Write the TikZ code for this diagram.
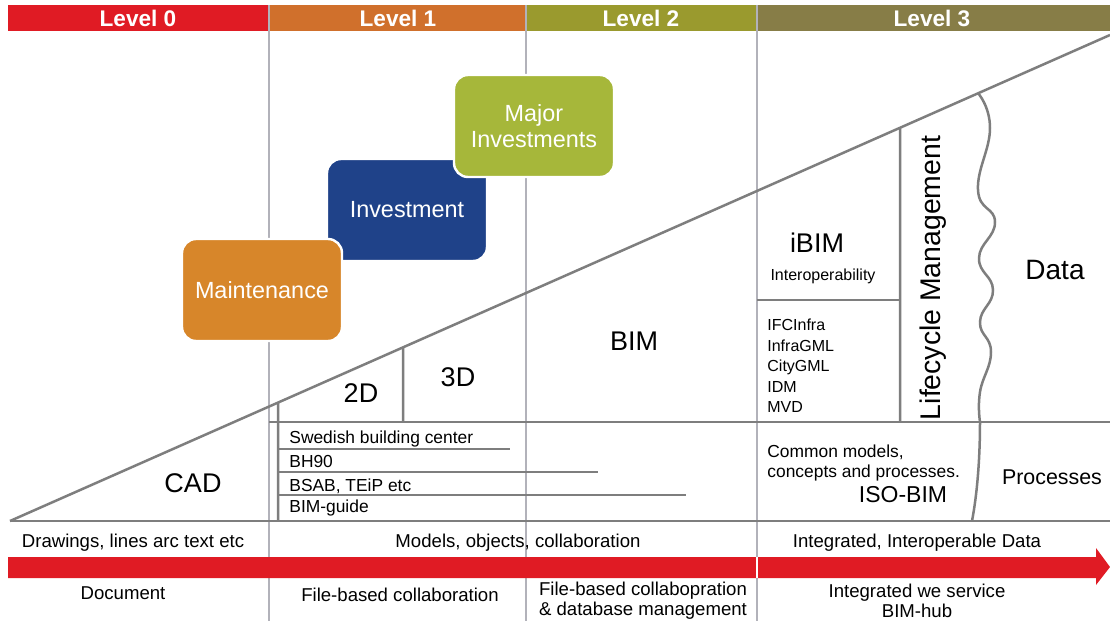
\documentclass[tikz,border=0pt]{standalone}
\usepackage{fontspec}
\setmainfont{Liberation Sans}
\definecolor{lvlred}{HTML}{E01B24}
\definecolor{lvlorange}{HTML}{D0702C}
\definecolor{lvlolive}{HTML}{9A9A2E}
\definecolor{lvlbrown}{HTML}{877D47}
\definecolor{majgreen}{HTML}{A6B73A}
\definecolor{invblue}{HTML}{1F4289}
\definecolor{mntorange}{HTML}{D7862A}
\definecolor{darkline}{HTML}{7E7E7E}
\definecolor{lightline}{HTML}{B2B2BA}
\tikzset{
	lvltext/.style={text=white,font=\bfseries\fontsize{11.3}{13}\selectfont},
	invbox/.style={draw=white,line width=1.2pt,rounded corners=7pt,minimum width=80pt,minimum height=51pt,text=white,align=center,font=\fontsize{11.7}{12.8}\selectfont},
	bigtxt/.style={font=\fontsize{13.5}{15}\selectfont},
	midtxt/.style={font=\fontsize{11.5}{13}\selectfont},
	smalltxt/.style={font=\fontsize{8.7}{10}\selectfont},
	bottxt/.style={font=\fontsize{9.3}{10}\selectfont,align=center},
	thinline/.style={draw=lightline,line width=0.75pt},
	thickline/.style={draw=darkline,line width=1.25pt}
}
\begin{document}
\begin{tikzpicture}[x=0.5pt,y=-0.5pt]
	\useasboundingbox (0,0) rectangle (1110,621);
	\fill[white] (0,0) rectangle (1110,621);
	
	\fill[lvlred] (8,5) rectangle (269,31);
	\fill[lvlorange] (269,5) rectangle (526,31);
	\fill[lvlolive] (526,5) rectangle (757,31);
	\fill[lvlbrown] (757,5) rectangle (1110,31);
	\node[lvltext] (lvl0) at (138,18) {Level 0};
	\node[lvltext] (lvl1) at (398,18) {Level 1};
	\node[lvltext] (lvl2) at (641,18) {Level 2};
	\node[lvltext] (lvl3) at (932,18) {Level 3};
	
	\draw[thinline] (269,5) -- (269,621);
	\draw[thinline] (526,5) -- (526,621);
	\draw[thinline] (757,5) -- (757,621);
	
	\coordinate (apex) at (10,521);
	\coordinate (peak) at (1110,35);
	\coordinate (baseend) at (1110,521);
	\draw[thickline] (apex) -- (peak);
	\draw[thickline] (apex) -- (baseend);
	\draw[thickline] (269,422) -- (1110,422);
	\draw[thickline] (intersection of apex--peak and 278,0--278,600) -- (278,521);
	\draw[thickline] (intersection of apex--peak and 403,0--403,600) -- (403,422);
	\draw[thickline] (intersection of apex--peak and 900,0--900,600) -- (900,422);
	\draw[thickline] (757,300) -- (900,300);
	\draw[thickline] (278,449) -- (510,449);
	\draw[thickline] (278,472) -- (598,472);
	\draw[thickline] (278,495) -- (686,495);
	\draw[thickline] plot[smooth,tension=0.8] coordinates {(978,93) (990,128) (978,190) (995,222) (979,258) (993,290) (980,322) (991,352) (980,392) (980,422)};
	\draw[thickline] (980,422) .. controls (980,460) and (977,495) .. (972,521);
	
	\node[invbox,fill=invblue] (invest) at (407,210) {Investment};
	\node[invbox,fill=mntorange] (maint) at (262,290) {Maintenance};
	\node[invbox,fill=majgreen] (major) at (534,126) {Major\\Investments};
	
	\node[bigtxt] (cad) at (193,483) {CAD};
	\node[bigtxt] (twod) at (361,393) {2D};
	\node[bigtxt] (threed) at (458,377) {3D};
	\node[bigtxt] (bim) at (634,341) {BIM};
	\node[bigtxt] (ibim) at (817,243) {iBIM};
	\node[font=\fontsize{8}{10}\selectfont] (interop) at (823,276) {Interoperability};
	\node[font=\fontsize{8}{10.25}\selectfont,align=left,anchor=north west,inner sep=0pt] (stds) at (767,319) {IFCInfra\\InfraGML\\CityGML\\IDM\\MVD};
	\node[font=\fontsize{14.2}{16}\selectfont,rotate=90] (lcm) at (933,278) {Lifecycle Management};
	\node[font=\fontsize{14}{16}\selectfont] (data) at (1055,270) {Data};
	\node[font=\fontsize{10.7}{12}\selectfont] (proc) at (1052,477) {Processes};
	\node[smalltxt,align=left,anchor=north west,inner sep=0pt] (common) at (767,444) {Common models,\\concepts and processes.};
	\node[midtxt] (isobim) at (903,495) {ISO-BIM};
	
	\node[smalltxt,anchor=west,inner sep=0pt] (sbc) at (289,439) {Swedish building center};
	\node[smalltxt,anchor=west,inner sep=0pt] (bh) at (289,462) {BH90};
	\node[smalltxt,anchor=west,inner sep=0pt] (bsab) at (289,486) {BSAB, TEiP etc};
	\node[smalltxt,anchor=west,inner sep=0pt] (guide) at (289,508) {BIM-guide};
	
	\node[bottxt] (drw) at (133,543) {Drawings, lines arc text etc};
	\node[bottxt] (mdl) at (518,543) {Models, objects, collaboration};
	\node[bottxt] (intd) at (917,543) {Integrated, Interoperable Data};
	
	\fill[lvlred] (8,557) -- (1096,557) -- (1096,548) -- (1110,567) -- (1096,585) -- (1096,578) -- (8,578) -- cycle;
	\draw[white,line width=0.75pt] (757,557) -- (757,578);
	
	\node[bottxt] (doc) at (123,593) {Document};
	\node[bottxt] (fbc) at (400,595) {File-based collaboration};
	\node[bottxt] (fbd) at (643,601) {File-based collabopration\\\& database management};
	\node[bottxt] (iws) at (917,601) {Integrated we service\\BIM-hub};
\end{tikzpicture}
\end{document}
